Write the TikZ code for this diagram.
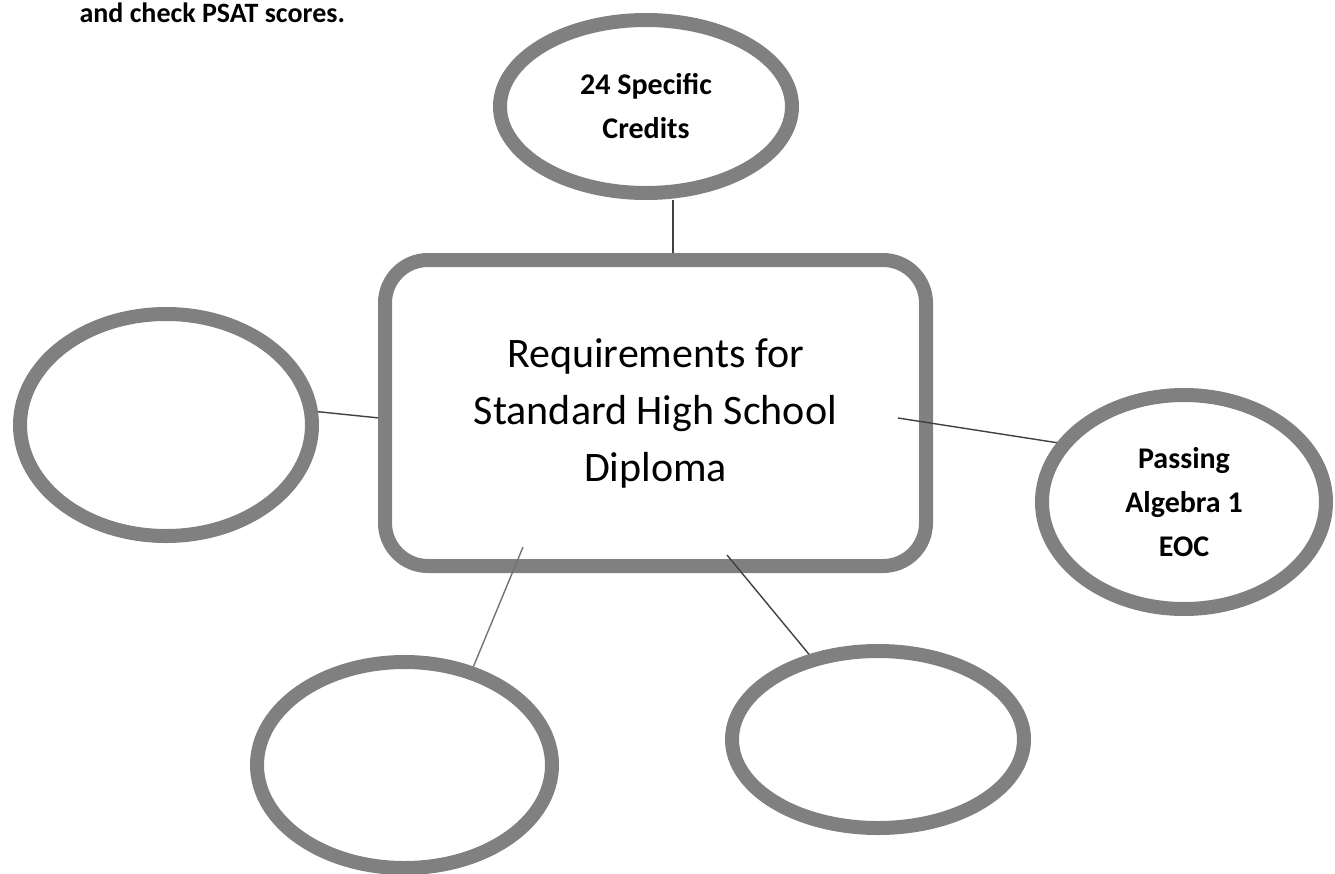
\documentclass[tikz,border=0pt]{standalone}
\usepackage{fontspec}
\setmainfont{Carlito}
\usepackage[dvipsnames]{xcolor}
\usetikzlibrary{shapes.geometric}

\definecolor{ringgray}{RGB}{128,128,128}

\begin{document}
\begin{tikzpicture}[x=1pt, y=-1pt]
  \tikzset{bubble/.style={draw=ringgray, ellipse, line width=14pt, inner sep=0pt,
                          align=center, font=\bfseries\fontsize{30}{44}\selectfont},
           panel/.style={draw=ringgray, rectangle, rounded corners=43pt, line width=14pt,
                         inner sep=0pt, minimum width=541pt, minimum height=306pt,
                         align=center, font=\fontsize{42}{57}\selectfont},
           link/.style={draw=black!75, line width=1.4pt}}

  \useasboundingbox (0,0) rectangle (1335,873);

  \node [anchor=base west, font=\bfseries\fontsize{28}{34}\selectfont] (note) at (76,22)
        {and check PSAT scores.};

  \node [panel] (diploma) at (655.5,413) {Requirements for\\Standard High School\\Diploma};

  \node [bubble, minimum width=292pt, minimum height=173pt] (credits) at (646,106.5)
        {24 Specific\\Credits};
  \node [bubble, minimum width=284pt, minimum height=214pt] (algebra) at (1184,502)
        {Passing\\Algebra 1\\EOC};

  \foreach \n/\x/\y/\w/\h in {left/166/425/292/222, lowleft/404.5/765/295/206,
                              lowright/878/739.5/292/177} {
    \node [bubble, minimum width=\w pt, minimum height=\h pt] (\n) at (\x,\y) {};
  }

  \coordinate (dp-t) at ([xshift=17.5pt]diploma.north);
  \coordinate (dp-r) at (898,418);
  \coordinate (dp-bl) at (523,547);
  \coordinate (dp-br) at (727,555);

  \draw [link] (credits.south -| dp-t) -- (dp-t);
  \draw [link] (left.5) -- (diploma.181);
  \draw [link] (dp-r) -- (algebra.155);
  \draw [link, draw=black!55] (dp-bl) -- (lowleft.55);
  \draw [link] (dp-br) -- (lowright.129);

\end{tikzpicture}
\end{document}
